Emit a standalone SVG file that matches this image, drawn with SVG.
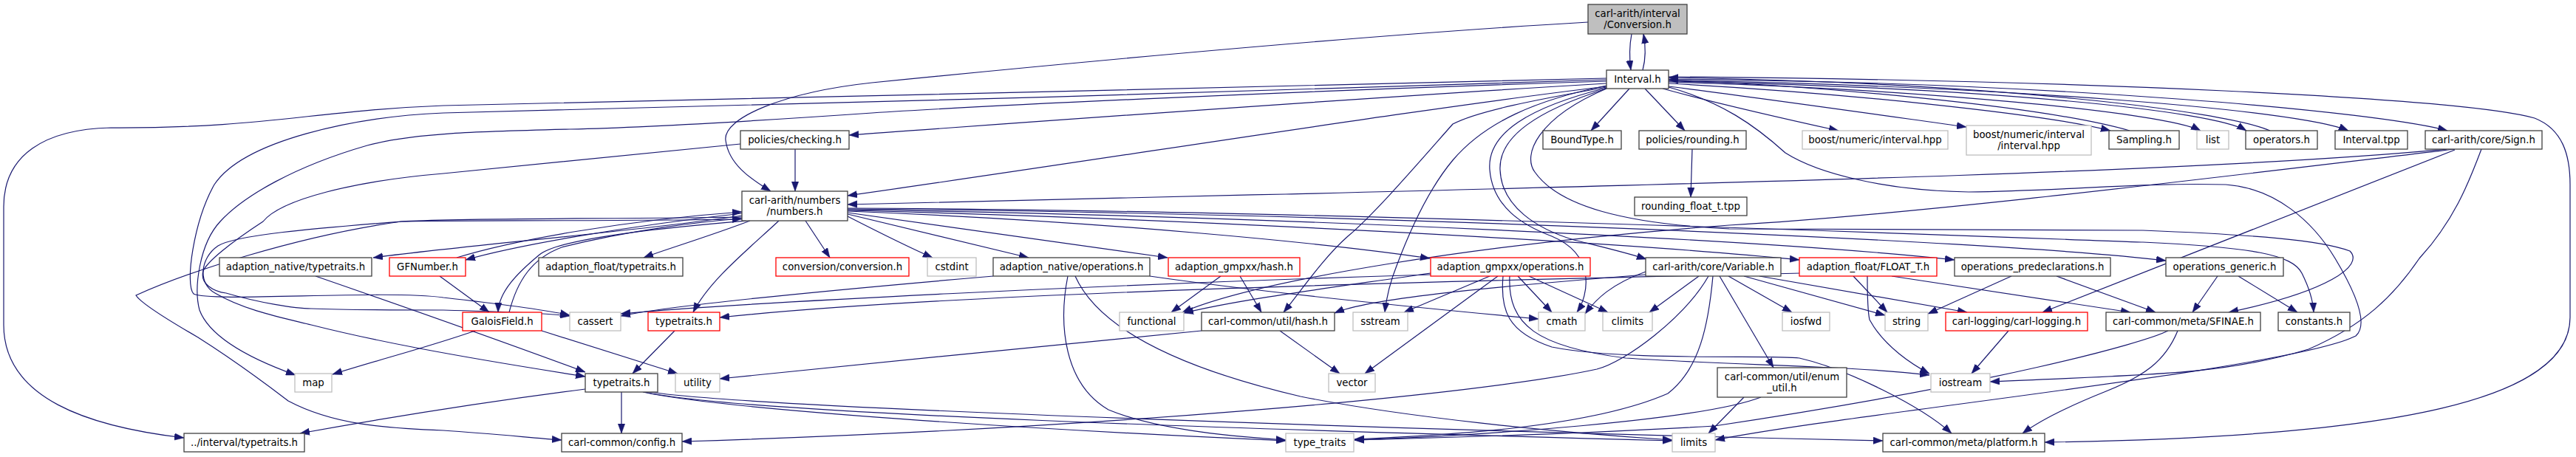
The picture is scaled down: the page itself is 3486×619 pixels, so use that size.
<svg xmlns="http://www.w3.org/2000/svg" width="3486" height="619" viewBox="0 0 3486 619">
<style>
.n rect{fill:#fff;stroke:#404040;stroke-width:1.3}
.n.g rect{stroke:#bfbfbf}
.n.r rect{stroke:#ff0000}
.n.root rect{fill:#bfbfbf}
text{font-family:"DejaVu Sans",sans-serif;font-size:13.3px;text-anchor:middle;fill:#000}
.e path{fill:none;stroke:#191970;stroke-width:1.2;marker-end:url(#a)}
</style>
<defs>
<marker id="a" viewBox="0 0 13 10" refX="13" refY="5" markerWidth="13" markerHeight="10" markerUnits="userSpaceOnUse" orient="auto">
<path d="M0,0.3 L13,5 L0,9.7 z" fill="#191970" stroke="#191970" stroke-width="0.5"/>
</marker>
</defs>
<rect width="3486" height="619" fill="#fff"/>
<g id="edges" class="e">
<path d="M2208,46 C2205,62 2205,80 2207,95"/>
<path d="M2223,95 C2227,80 2227,62 2224,46"/>
<path d="M2149,30 C1800,50 1350,95 1180,112 C1060,125 978,160 982,190 C986,222 1015,242 1043,259"/>
<path d="M2205,120 L2153,177"/>
<path d="M2226,120 L2280,177"/>
<path d="M2290,202 L2288,267"/>
<path d="M2250,120 C2330,142 2420,162 2488,177"/>
<path d="M2258,117 C2400,135 2560,158 2661,172"/>
<path d="M2258,113 C2500,126 2770,155 2856,177"/>
<path d="M2882,177 C2760,142 2450,116 2258,108"/>
<path d="M2258,111 C2600,121 2930,152 2978,177"/>
<path d="M2258,110 C2700,119 2995,150 3040,177"/>
<path d="M3072,177 C3010,150 2700,112 2258,105"/>
<path d="M2258,109 C2700,116 3110,148 3178,177"/>
<path d="M2258,107 C2800,112 3220,152 3312,177"/>
<path d="M2258,104 C2800,108 3330,132 3430,160 C3468,175 3478,210 3478,250 L3478,430 C3478,540 3250,592 2767,599"/>
<path d="M2174,106 C1800,116 900,136 600,143 C420,150 360,174 150,173 C60,175 5,210 5,280 L5,440 C5,540 120,578 249,593"/>
<path d="M2174,113 C1800,135 1400,165 1149,183"/>
<path d="M2174,117 C1900,150 1500,215 1147,265"/>
<path d="M2174,108 C1800,122 900,146 600,153 C480,158 330,190 290,250 C262,300 250,385 262,398 C285,410 520,392 600,403 C680,412 740,420 771,427"/>
<path d="M2174,110 C1700,125 1300,145 1180,153 C1050,162 900,172 771,175 C650,178 560,180 497,197 C400,225 330,265 298,300 C270,330 262,390 270,420 C285,460 350,490 400,508"/>
<path d="M2174,118 C2080,135 2000,150 1966,168 C1920,220 1860,290 1824,320 C1790,350 1760,395 1737,423"/>
<path d="M2174,116 C2080,135 2010,165 1966,217 C1930,260 1905,320 1890,360 C1880,385 1876,405 1874,423"/>
<path d="M2174,119 C2070,145 2012,180 2016,230 C2020,280 2060,305 2100,320 C2160,345 2150,400 2134,423"/>
<path d="M2174,120 C2080,150 2028,185 2030,230 C2032,280 2080,310 2130,325 C2170,335 2200,342 2228,351"/>
<path d="M2258,118 C2330,138 2375,170 2416,207 C2460,235 2550,258 2664,260 C2800,258 2900,247 3012,250 C3080,255 3130,300 3160,350 C3190,400 3205,440 3188,455 C3100,500 2500,560 2321,596"/>
<path d="M2174,120 C2080,160 2060,210 2077,233 C2110,280 2200,303 2340,310 C2600,312 2800,310 2900,312 C3050,318 3140,325 3180,340 C3200,360 3150,395 3016,423"/>
<path d="M3311,202 C3000,232 2340,248 1740,263 C1500,268 1250,273 1147,277"/>
<path d="M3322,202 C3000,240 2600,290 2340,305 C2000,330 1700,380 1600,423"/>
<path d="M3322,203 C3200,250 3000,330 2764,423"/>
<path d="M3358,202 C3340,250 3320,300 3274,350 C3240,400 3200,440 3124,473 C3000,510 2900,507 2693,517"/>
<path d="M1004,292 C850,315 650,330 505,349"/>
<path d="M1004,289 C850,306 700,332 630,352"/>
<path d="M618,349 C700,324 850,298 1004,287"/>
<path d="M1015,299 C960,320 900,338 871,349"/>
<path d="M1090,299 L1123,349"/>
<path d="M1147,293 C1190,315 1230,335 1262,349"/>
<path d="M1147,290 L1392,349"/>
<path d="M1147,288 L1580,349"/>
<path d="M1147,286 C1500,300 1800,330 1935,350"/>
<path d="M1147,285 C1600,296 2200,328 2435,352"/>
<path d="M1147,284 C1700,292 2400,325 2645,352"/>
<path d="M1147,283 C1800,288 2700,325 2931,353"/>
<path d="M1147,282 C1800,284 2800,325 2900,328 C3050,335 3102,345 3115,370 C3125,390 3130,405 3131,423"/>
<path d="M1010,299 C940,305 760,320 730,345 C700,370 675,395 674,423"/>
<path d="M689,423 C700,380 720,350 760,335 C850,312 950,300 1004,296"/>
<path d="M595,374 L662,423"/>
<path d="M1054,299 C1010,340 960,380 938,423"/>
<path d="M1004,294 C800,297 620,295 543,300 C420,310 320,318 295,333 C270,350 268,385 291,397 C330,420 380,430 421,440 C500,460 600,480 792,510"/>
<path d="M1004,297 C800,300 600,298 543,300 C400,320 250,370 184,400 C190,410 230,435 268,457 C320,490 360,520 390,543 C450,575 520,580 600,583 C660,587 710,592 760,596"/>
<path d="M427,374 C560,420 700,470 792,504"/>
<path d="M733,448 L917,506"/>
<path d="M643,448 C580,470 520,485 450,507"/>
<path d="M913,448 L856,506"/>
<path d="M841,531 L841,587"/>
<path d="M792,527 C650,545 500,570 406,587"/>
<path d="M870,531 C980,555 1400,582 1740,597"/>
<path d="M872,531 C1000,560 1700,582 2263,597"/>
<path d="M874,530 C1000,553 2000,585 2548,597"/>
<path d="M1076,202 L1076,259"/>
<path d="M1002,195 C800,215 620,232 600,235 C480,245 380,270 356,300 C310,330 280,355 275,367 C270,385 290,395 306,397 C350,410 400,418 421,418 C470,420 550,420 600,420 C680,422 740,424 771,428"/>
<path d="M2312,374 C2280,430 2200,490 2161,500 C2000,535 1500,580 923,598"/>
<path d="M2299,374 L2232,423"/>
<path d="M2360,374 L2551,427"/>
<path d="M2339,374 L2425,423"/>
<path d="M2381,374 L2662,423"/>
<path d="M2327,374 L2400,498"/>
<path d="M2318,374 C2312,440 2300,500 2257,533 C2150,580 1950,590 1833,595"/>
<path d="M2227,372 C2000,390 1850,405 1806,424"/>
<path d="M2227,368 C2180,385 2160,405 2145,425"/>
<path d="M2016,374 L1900,423"/>
<path d="M2027,374 L1847,506"/>
<path d="M2054,374 L2100,423"/>
<path d="M2069,374 L2176,423"/>
<path d="M2034,374 C2030,420 2040,450 2100,470 C2200,490 2400,480 2435,485 C2500,500 2600,550 2641,587"/>
<path d="M2043,374 C2040,440 2080,470 2200,485 C2350,495 2500,495 2611,508"/>
<path d="M1936,370 C1800,390 1680,405 1602,424"/>
<path d="M1936,372 C1500,385 1000,410 840,425"/>
<path d="M1344,374 C1100,395 900,415 840,428"/>
<path d="M1556,374 C1700,395 1900,415 2082,432"/>
<path d="M1445,374 C1432,440 1440,520 1500,555 C1560,580 1650,590 1740,596"/>
<path d="M1455,374 C1480,430 1560,490 1760,537 C1900,565 2100,585 2263,596"/>
<path d="M1652,374 L1585,423"/>
<path d="M1678,374 L1707,423"/>
<path d="M1626,448 C1400,470 1200,490 974,513"/>
<path d="M1732,448 L1813,506"/>
<path d="M2436,370 C2000,380 1300,395 974,430"/>
<path d="M2527,374 C2527,400 2527,420 2530,433 C2550,470 2590,495 2611,506"/>
<path d="M2508,374 L2554,423"/>
<path d="M2560,374 L2883,423"/>
<path d="M2722,374 L2609,425"/>
<path d="M2783,374 L2917,423"/>
<path d="M3001,374 L2967,423"/>
<path d="M3029,374 L3109,423"/>
<path d="M2718,448 L2668,506"/>
<path d="M2383,538 C2300,570 2000,590 1833,596"/>
<path d="M2360,538 L2312,587"/>
<path d="M2934,448 C2900,465 2700,520 2320,577 C2100,590 1900,594 1833,596"/>
<path d="M2947,448 C2930,490 2900,510 2850,530 C2800,550 2760,570 2737,587"/>
</g>
<g id="n_conv" class="n root"><rect x="2149" y="6" width="134" height="40"/><text x="2216" y="23">carl-arith/interval</text><text x="2216" y="38">/Conversion.h</text></g>
<g id="n_interval" class="n"><rect x="2174" y="95" width="84" height="25"/><text x="2216" y="112">Interval.h</text></g>
<g id="n_checking" class="n"><rect x="1002" y="177" width="147" height="25"/><text x="1075.5" y="194">policies/checking.h</text></g>
<g id="n_boundtype" class="n"><rect x="2088" y="177" width="106" height="25"/><text x="2141" y="194">BoundType.h</text></g>
<g id="n_rounding" class="n"><rect x="2218" y="177" width="145" height="25"/><text x="2290.5" y="194">policies/rounding.h</text></g>
<g id="n_boost1" class="n g"><rect x="2439" y="177" width="197" height="25"/><text x="2537.5" y="194">boost/numeric/interval.hpp</text></g>
<g id="n_boost2" class="n g"><rect x="2661" y="170" width="169" height="40"/><text x="2745.5" y="187">boost/numeric/interval</text><text x="2745.5" y="202">/interval.hpp</text></g>
<g id="n_sampling" class="n"><rect x="2854" y="177" width="95" height="25"/><text x="2901.5" y="194">Sampling.h</text></g>
<g id="n_list" class="n g"><rect x="2973" y="177" width="43" height="25"/><text x="2994.5" y="194">list</text></g>
<g id="n_operators" class="n"><rect x="3039" y="177" width="97" height="25"/><text x="3087.5" y="194">operators.h</text></g>
<g id="n_tpp" class="n"><rect x="3160" y="177" width="98" height="25"/><text x="3209" y="194">Interval.tpp</text></g>
<g id="n_sign" class="n"><rect x="3282" y="177" width="158" height="25"/><text x="3361" y="194">carl-arith/core/Sign.h</text></g>
<g id="n_numbers" class="n"><rect x="1004" y="259" width="143" height="40"/><text x="1075.5" y="276">carl-arith/numbers</text><text x="1075.5" y="291">/numbers.h</text></g>
<g id="n_rft" class="n"><rect x="2212" y="267" width="152" height="25"/><text x="2288" y="284">rounding_float_t.tpp</text></g>
<g id="n_ant" class="n"><rect x="297" y="349" width="206" height="25"/><text x="400" y="366">adaption_native/typetraits.h</text></g>
<g id="n_gfn" class="n r"><rect x="527" y="349" width="103" height="25"/><text x="578.5" y="366">GFNumber.h</text></g>
<g id="n_aft" class="n"><rect x="729" y="349" width="195" height="25"/><text x="826.5" y="366">adaption_float/typetraits.h</text></g>
<g id="n_convc" class="n r"><rect x="1050" y="349" width="180" height="25"/><text x="1140" y="366">conversion/conversion.h</text></g>
<g id="n_cstdint" class="n g"><rect x="1255" y="349" width="66" height="25"/><text x="1288" y="366">cstdint</text></g>
<g id="n_ano" class="n"><rect x="1344" y="349" width="212" height="25"/><text x="1450" y="366">adaption_native/operations.h</text></g>
<g id="n_agh" class="n r"><rect x="1581" y="349" width="178" height="25"/><text x="1670" y="366">adaption_gmpxx/hash.h</text></g>
<g id="n_ago" class="n r"><rect x="1936" y="349" width="216" height="25"/><text x="2044" y="366">adaption_gmpxx/operations.h</text></g>
<g id="n_var" class="n"><rect x="2227" y="349" width="183" height="25"/><text x="2318.5" y="366">carl-arith/core/Variable.h</text></g>
<g id="n_float" class="n r"><rect x="2435" y="349" width="186" height="25"/><text x="2528" y="366">adaption_float/FLOAT_T.h</text></g>
<g id="n_opd" class="n"><rect x="2645" y="349" width="211" height="25"/><text x="2750.5" y="366">operations_predeclarations.h</text></g>
<g id="n_opg" class="n"><rect x="2931" y="349" width="159" height="25"/><text x="3010.5" y="366">operations_generic.h</text></g>
<g id="n_gf" class="n r"><rect x="626" y="423" width="107" height="25"/><text x="679.5" y="440">GaloisField.h</text></g>
<g id="n_cassert" class="n g"><rect x="771" y="423" width="69" height="25"/><text x="805.5" y="440">cassert</text></g>
<g id="n_ttr" class="n r"><rect x="877" y="423" width="97" height="25"/><text x="925.5" y="440">typetraits.h</text></g>
<g id="n_functional" class="n g"><rect x="1515" y="423" width="87" height="25"/><text x="1558.5" y="440">functional</text></g>
<g id="n_cch" class="n"><rect x="1626" y="423" width="180" height="25"/><text x="1716" y="440">carl-common/util/hash.h</text></g>
<g id="n_sstream" class="n g"><rect x="1831" y="423" width="74" height="25"/><text x="1868" y="440">sstream</text></g>
<g id="n_cmath" class="n g"><rect x="2082" y="423" width="63" height="25"/><text x="2113.5" y="440">cmath</text></g>
<g id="n_climits" class="n g"><rect x="2169" y="423" width="67" height="25"/><text x="2202.5" y="440">climits</text></g>
<g id="n_iosfwd" class="n g"><rect x="2412" y="423" width="64" height="25"/><text x="2444" y="440">iosfwd</text></g>
<g id="n_string" class="n g"><rect x="2551" y="423" width="58" height="25"/><text x="2580" y="440">string</text></g>
<g id="n_logging" class="n r"><rect x="2633" y="423" width="192" height="25"/><text x="2729" y="440">carl-logging/carl-logging.h</text></g>
<g id="n_sfinae" class="n"><rect x="2850" y="423" width="209" height="25"/><text x="2954.5" y="440">carl-common/meta/SFINAE.h</text></g>
<g id="n_constants" class="n"><rect x="3083" y="423" width="97" height="25"/><text x="3131.5" y="440">constants.h</text></g>
<g id="n_map" class="n g"><rect x="399" y="506" width="50" height="25"/><text x="424" y="523">map</text></g>
<g id="n_ttb" class="n"><rect x="792" y="506" width="98" height="25"/><text x="841" y="523">typetraits.h</text></g>
<g id="n_utility" class="n g"><rect x="914" y="506" width="60" height="25"/><text x="944" y="523">utility</text></g>
<g id="n_vector" class="n g"><rect x="1798" y="506" width="63" height="25"/><text x="1829.5" y="523">vector</text></g>
<g id="n_enum" class="n"><rect x="2324" y="498" width="175" height="40"/><text x="2411.5" y="515">carl-common/util/enum</text><text x="2411.5" y="530">_util.h</text></g>
<g id="n_iostream" class="n g"><rect x="2613" y="506" width="80" height="25"/><text x="2653" y="523">iostream</text></g>
<g id="n_itt" class="n"><rect x="249" y="587" width="163" height="25"/><text x="330.5" y="604">../interval/typetraits.h</text></g>
<g id="n_config" class="n"><rect x="760" y="587" width="163" height="25"/><text x="841.5" y="604">carl-common/config.h</text></g>
<g id="n_type_traits" class="n g"><rect x="1740" y="587" width="92" height="25"/><text x="1786" y="604">type_traits</text></g>
<g id="n_limits" class="n g"><rect x="2263" y="587" width="58" height="25"/><text x="2292" y="604">limits</text></g>
<g id="n_platform" class="n"><rect x="2548" y="587" width="219" height="25"/><text x="2657.5" y="604">carl-common/meta/platform.h</text></g>
</svg>
